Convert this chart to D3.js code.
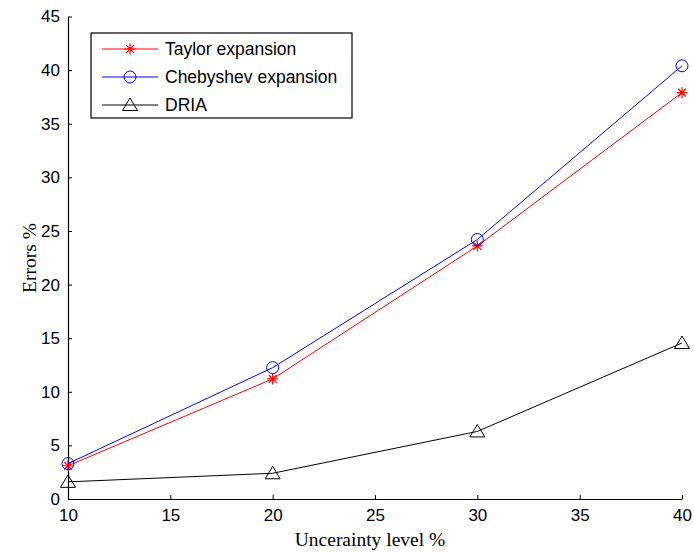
<!DOCTYPE html>
<html>
<head>
<meta charset="utf-8">
<script src="https://cdn.jsdelivr.net/npm/d3@7"></script>
<style>
  body { margin: 0; background: #fff; }
  .tick text { font-family: "Liberation Sans", Arial, sans-serif; font-size: 17px; fill: #000; }
  .axisTitle { font-family: "Liberation Serif", "Times New Roman", serif; font-size: 19.5px; fill: #000; }
  .legendText { font-family: "Liberation Sans", Arial, sans-serif; font-size: 17.5px; fill: #000; }
</style>
</head>
<body>
<svg id="viz" width="694" height="552"></svg>
<script>
var levels = [10, 20, 30, 40];
var taylor = [3.1, 11.2, 23.6, 37.9];
var chebyshev = [3.3, 12.25, 24.2, 40.4];
var dria = [1.6, 2.4, 6.3, 14.55];
var xTicks = [10, 15, 20, 25, 30, 35, 40];
var yTicks = [0, 5, 10, 15, 20, 25, 30, 35, 40, 45];

var seriesList = [
  {name: "Taylor expansion", values: taylor, color: "#ff0000", marker: "star"},
  {name: "Chebyshev expansion", values: chebyshev, color: "#0000ff", marker: "circle"},
  {name: "DRIA", values: dria, color: "#000000", marker: "triangle"}
];

var svg = d3.select("#viz");

var xScale = d3.scaleLinear().domain([10, 40]).range([68, 682]);
var yScale = d3.scaleLinear().domain([0, 45]).range([499, 16.5]);

// axes, ticks pointing inward like matlab
var xAxis = svg.append("g")
  .attr("transform", "translate(0," + yScale(0) + ")")
  .call(d3.axisBottom(xScale).tickValues(xTicks).tickSizeInner(-4).tickSizeOuter(0).tickPadding(10));
var yAxis = svg.append("g")
  .attr("transform", "translate(" + xScale(10) + ",0)")
  .call(d3.axisLeft(yScale).tickValues(yTicks).tickSizeInner(-4).tickSizeOuter(0).tickPadding(8));
svg.selectAll(".domain").attr("stroke", "#000").attr("stroke-width", 1.2);
svg.selectAll(".tick line").attr("stroke", "#000");

var line = d3.line()
  .x(function(d, i) { return xScale(levels[i]); })
  .y(function(d) { return yScale(d); });

function drawMarker(g, type, x, y, color) {
  if (type === "circle") {
    g.append("circle").attr("cx", x).attr("cy", y).attr("r", 6)
      .attr("fill", "none").attr("stroke", color).attr("stroke-width", 1);
  } else if (type === "triangle") {
    g.append("path")
      .attr("d", "M" + x + "," + (y - 7) + "L" + (x + 7.5) + "," + (y + 5.5) + "L" + (x - 7.5) + "," + (y + 5.5) + "Z")
      .attr("fill", "none").attr("stroke", color).attr("stroke-width", 1);
  } else {
    var r = 5.5;
    var d = "";
    for (var k = 0; k < 4; k++) {
      var a = k * Math.PI / 4;
      d += "M" + (x - r * Math.cos(a)) + "," + (y - r * Math.sin(a)) + "L" + (x + r * Math.cos(a)) + "," + (y + r * Math.sin(a));
    }
    g.append("path").attr("d", d).attr("stroke", color).attr("stroke-width", 1.2);
  }
}

seriesList.forEach(function(s) {
  svg.append("path")
    .datum(s.values)
    .attr("fill", "none")
    .attr("stroke", s.color)
    .attr("stroke-width", 1)
    .attr("d", line);
  var mg = svg.append("g");
  s.values.forEach(function(v, i) {
    drawMarker(mg, s.marker, xScale(levels[i]), yScale(v), s.color);
  });
});

// legend
var legend = svg.append("g");
legend.append("rect")
  .attr("x", 91).attr("y", 33).attr("width", 261).attr("height", 85)
  .attr("fill", "#fff").attr("stroke", "#000").attr("stroke-width", 1.2);
seriesList.forEach(function(s, i) {
  var ly = 49 + i * 28;
  legend.append("line").attr("x1", 102).attr("x2", 158).attr("y1", ly).attr("y2", ly)
    .attr("stroke", s.color).attr("stroke-width", 1);
  drawMarker(legend, s.marker, 130, ly, s.color);
  legend.append("text").attr("class", "legendText")
    .attr("x", 165).attr("y", ly + 6).text(s.name);
});

// axis titles
svg.append("text").attr("class", "axisTitle")
  .attr("x", 370).attr("y", 546).attr("text-anchor", "middle")
  .text("Uncerainty level %");
svg.append("text").attr("class", "axisTitle")
  .attr("transform", "translate(36,258) rotate(-90)")
  .attr("text-anchor", "middle")
  .text("Errors %");
</script>
</body>
</html>
